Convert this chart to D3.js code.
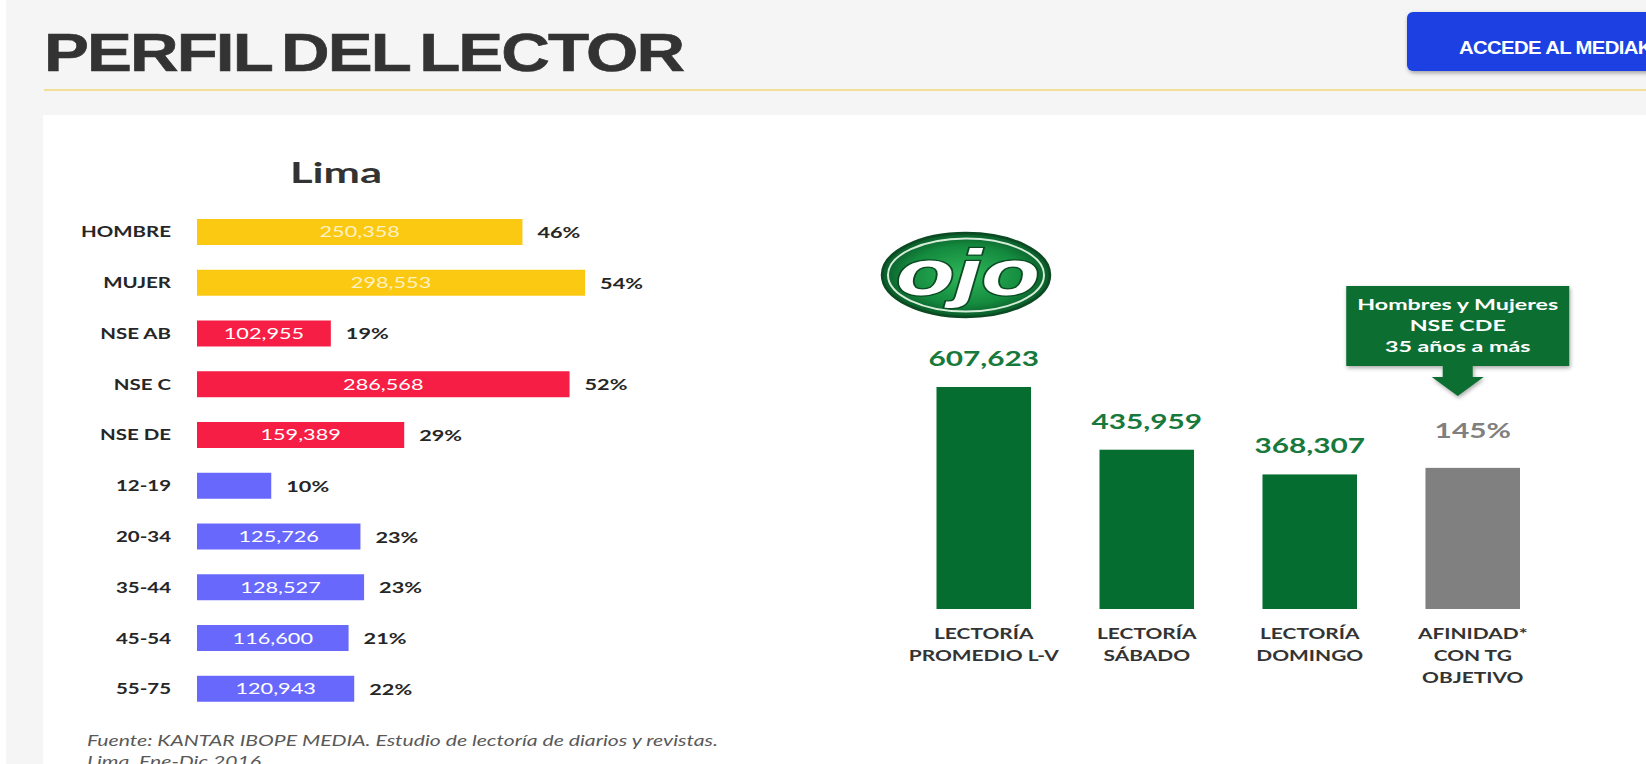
<!DOCTYPE html>
<html>
<head>
<meta charset="utf-8">
<script src="https://d3js.org/d3.v7.min.js"></script>
<style>
  body { margin: 0; background: #f5f5f5; overflow: hidden; }
  svg { display: block; }
</style>
</head>
<body>
<svg width="1646" height="764"></svg>
<script>
// perfil del lector - Lima
var profileLabels = ["HOMBRE", "MUJER", "NSE AB", "NSE C", "NSE DE", "12-19", "20-34", "35-44", "45-54", "55-75"];
var profileValues = [250358, 298553, 102955, 286568, 159389, 57115, 125726, 128527, 116600, 120943];
var profilePercents = ["46%", "54%", "19%", "52%", "29%", "10%", "23%", "23%", "21%", "22%"];
var profileGroups = ["sexo", "sexo", "nse", "nse", "nse", "edad", "edad", "edad", "edad", "edad"];

// lectoria
var readLabels = [["LECTORÍA", "PROMEDIO L-V"], ["LECTORÍA", "SÁBADO"], ["LECTORÍA", "DOMINGO"], ["AFINIDAD*", "CON TG", "OBJETIVO"]];
var readValues = [607623, 435959, 368307];
var affinityValue = 145;
var calloutLines = ["Hombres y Mujeres", "NSE CDE", "35 años a más"];

var groupColors = {sexo: "#fbc912", nse: "#f61e45", edad: "#6868fc"};
var fmt = d3.format(",");

var svg = d3.select("svg");
var defs = svg.append("defs");
var sh = defs.append("filter").attr("id", "shadow").attr("x", "-10%").attr("y", "-10%").attr("width", "130%").attr("height", "140%");
sh.append("feDropShadow").attr("dx", 1).attr("dy", 2).attr("stdDeviation", 2).attr("flood-color", "#000").attr("flood-opacity", 0.35);
var grad = defs.append("radialGradient").attr("id", "logoGrad");
grad.append("stop").attr("offset", "0%").attr("stop-color", "#2fb75a");
grad.append("stop").attr("offset", "70%").attr("stop-color", "#148a3e");
grad.append("stop").attr("offset", "100%").attr("stop-color", "#0a5a29");

// stretched text helper (the source image is wide)
function stext(g, x, y, sx) {
  return g.append("text").attr("transform", "translate(" + x + "," + y + ") scale(" + sx + ",1)");
}

// page chrome
svg.append("rect").attr("x", 0).attr("y", 0).attr("width", 6).attr("height", 764).attr("fill", "#fff");
svg.append("rect").attr("x", 43).attr("y", 115).attr("width", 1603).attr("height", 649).attr("fill", "#fff");
svg.append("rect").attr("x", 44).attr("y", 89).attr("width", 1602).attr("height", 2).attr("fill", "#f1df95");

stext(svg, 44, 71, 1.27).text("PERFIL DEL LECTOR")
  .attr("font-family", "Liberation Sans, Arial, sans-serif").attr("font-weight", "bold")
  .attr("font-size", 53).attr("letter-spacing", -1.5).attr("word-spacing", -5)
  .attr("fill", "#333").attr("stroke", "#333").attr("stroke-width", 0.6);

svg.append("rect").attr("x", 1407).attr("y", 12).attr("width", 280).attr("height", 59).attr("rx", 6)
  .attr("fill", "#1a3fe2").attr("filter", "url(#shadow)");
stext(svg, 1459, 54, 1.07).text("ACCEDE AL MEDIAKIT")
  .attr("font-family", "Liberation Sans, Arial, sans-serif").attr("font-weight", "bold")
  .attr("font-size", 19).attr("letter-spacing", -0.6).attr("fill", "#fff");

// ---- left chart
var left = svg.append("g").attr("font-family", "Lato, sans-serif");
var x = d3.scaleLinear().domain([0, 300000]).range([197, 587]);
var y = d3.scaleBand().domain(profileLabels).range([219, 701.75]).paddingInner(0.488).paddingOuter(0);

stext(left, 336, 183, 1.5).text("Lima").attr("text-anchor", "middle")
  .attr("font-weight", "bold").attr("font-size", 29).attr("fill", "#333");

profileLabels.forEach(function(lab, i) {
  var cy = y(lab) + y.bandwidth() / 2;
  var v = profileValues[i];
  left.append("rect").attr("x", x(0)).attr("y", y(lab))
    .attr("width", x(v) - x(0)).attr("height", y.bandwidth())
    .attr("fill", groupColors[profileGroups[i]]);
  stext(left, 171, cy + 5.5, 1.32).text(lab).attr("text-anchor", "end")
    .attr("font-weight", "bold").attr("font-size", 15.5).attr("fill", "#262626");
  if (x(v) - x(0) > 90) {
    stext(left, (x(0) + x(v)) / 2, cy + 5.5, 1.4).text(fmt(v)).attr("text-anchor", "middle")
      .attr("font-size", 15.5).attr("fill", "#fff")
      .attr("fill-opacity", profileGroups[i] == "sexo" ? 0.75 : 1);
  }
  stext(left, x(v) + 15, cy + 6, 1.4).text(profilePercents[i])
    .attr("font-weight", "bold").attr("font-size", 15.5).attr("fill", "#262626");
});

var foot = left.append("g").attr("font-style", "italic").attr("font-size", 14.5).attr("fill", "#595959");
stext(foot, 87, 746, 1.46).text("Fuente: KANTAR IBOPE MEDIA. Estudio de lectoría de diarios y revistas.");
stext(foot, 87, 767, 1.46).text("Lima, Ene-Dic 2016");

// ---- right chart
var right = svg.append("g").attr("font-family", "Lato, sans-serif");
var xr = d3.scaleBand().domain(d3.range(readLabels.length)).range([936.5, 1520]).paddingInner(0.42).paddingOuter(0);
var yr = d3.scaleLinear().domain([0, 650000]).range([609, 371.5]);
var yAff = d3.scaleLinear().domain([0, 150]).range([609, 463]);

// logo
var logo = right.append("g");
logo.append("ellipse").attr("cx", 966).attr("cy", 275).attr("rx", 84).attr("ry", 42)
  .attr("fill", "url(#logoGrad)").attr("stroke", "#0b4a22").attr("stroke-width", 2.5);
logo.append("ellipse").attr("cx", 966).attr("cy", 275).attr("rx", 78).attr("ry", 36.5)
  .attr("fill", "none").attr("stroke", "#d5ecd9").attr("stroke-width", 2);
stext(logo, 968, 295, 1.5).text("ojo").attr("text-anchor", "middle")
  .attr("font-family", "Liberation Sans, Arial, sans-serif").attr("font-weight", "bold").attr("font-style", "italic")
  .attr("font-size", 64).attr("fill", "#fff").attr("stroke", "#0b4a22").attr("stroke-width", 2.5)
  .attr("paint-order", "stroke");

readValues.forEach(function(v, i) {
  right.append("rect").attr("x", xr(i)).attr("y", yr(v))
    .attr("width", xr.bandwidth()).attr("height", yr(0) - yr(v)).attr("fill", "#066d30");
  stext(right, xr(i) + xr.bandwidth() / 2, yr(v) - 21, 1.42).text(fmt(v)).attr("text-anchor", "middle")
    .attr("font-weight", "bold").attr("font-size", 21).attr("fill", "#17793b");
});
right.append("rect").attr("x", xr(3)).attr("y", yAff(affinityValue))
  .attr("width", xr.bandwidth()).attr("height", yAff(0) - yAff(affinityValue)).attr("fill", "#808080");
stext(right, xr(3) + xr.bandwidth() / 2, yAff(affinityValue) - 30, 1.42).text(affinityValue + "%")
  .attr("text-anchor", "middle").attr("font-weight", "bold").attr("font-size", 21).attr("fill", "#808080");

readLabels.forEach(function(lines, i) {
  lines.forEach(function(t, j) {
    stext(right, xr(i) + xr.bandwidth() / 2, 639 + j * 22, 1.35).text(t).attr("text-anchor", "middle")
      .attr("font-weight", "bold").attr("font-size", 15.5).attr("fill", "#333");
  });
});

// callout
var cx = xr(3) + xr.bandwidth() / 2 - 15;
var call = right.append("g").attr("filter", "url(#shadow)");
call.append("rect").attr("x", cx - 111.5).attr("y", 286).attr("width", 223).attr("height", 80).attr("fill", "#0b6e32");
call.append("path").attr("fill", "#0b6e32")
  .attr("d", "M" + (cx - 15) + ",365 L" + (cx + 15) + ",365 L" + (cx + 15) + ",377 L" + (cx + 26) + ",377 L" + cx + ",396 L" + (cx - 26) + ",377 L" + (cx - 15) + ",377 Z");
calloutLines.forEach(function(t, j) {
  stext(right, cx, 310 + j * 21, 1.55).text(t).attr("text-anchor", "middle")
    .attr("font-weight", "bold").attr("font-size", 15).attr("fill", "#fff");
});
</script>
</body>
</html>
